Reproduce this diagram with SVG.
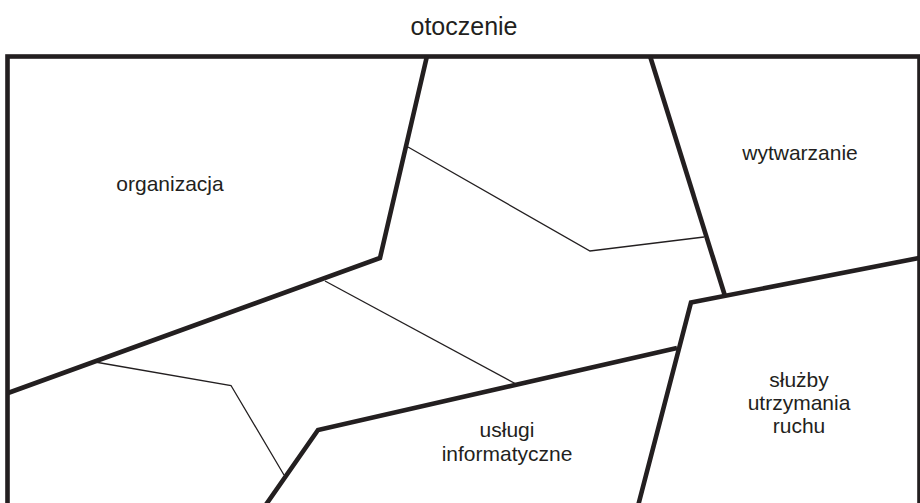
<svg xmlns="http://www.w3.org/2000/svg" width="920" height="503" viewBox="0 0 920 503">
  <style>
    .bold { fill: none; stroke: #231f20; stroke-width: 4.6; stroke-linejoin: miter; }
    .thin { fill: none; stroke: #231f20; stroke-width: 1.3; }
    text { font-family: "Liberation Sans", Arial, sans-serif; font-size: 21px; fill: #231f20; text-anchor: middle; }
    .title { font-size: 25px; }
  </style>
  <rect width="920" height="503" fill="#ffffff"/>

  <!-- outer boundary of the system -->
  <g id="frame">
    <rect class="bold" x="7.5" y="56.5" width="912" height="480"/>
  </g>

  <g id="otoczenie">
    <text class="title" x="464" y="35">otoczenie</text>
  </g>

  <!-- area borders -->
  <g id="connectors">
    <polyline class="bold" points="427,56 380,258 8,393"/>
    <polyline class="bold" points="650,56 725,296"/>
    <polyline class="bold" points="919,258 691,302.5 638,506"/>
    <polyline class="bold" points="677,348 318,430 265,506"/>
    <polyline class="thin" points="408,147 590,251 704,237"/>
    <line class="thin" x1="325" y1="281" x2="517" y2="384.5"/>
    <polyline class="thin" points="95,362 231,385.5 284,475"/>
  </g>

  <g id="organizacja">
    <text x="170" y="191">organizacja</text>
  </g>
  <g id="wytwarzanie">
    <text x="800" y="160">wytwarzanie</text>
  </g>
  <g id="sluzby">
    <text x="799" y="387">służby</text>
    <text x="799" y="410">utrzymania</text>
    <text x="799" y="433">ruchu</text>
  </g>
  <g id="uslugi">
    <text x="507" y="437">usługi</text>
    <text x="507" y="461">informatyczne</text>
  </g>
</svg>
